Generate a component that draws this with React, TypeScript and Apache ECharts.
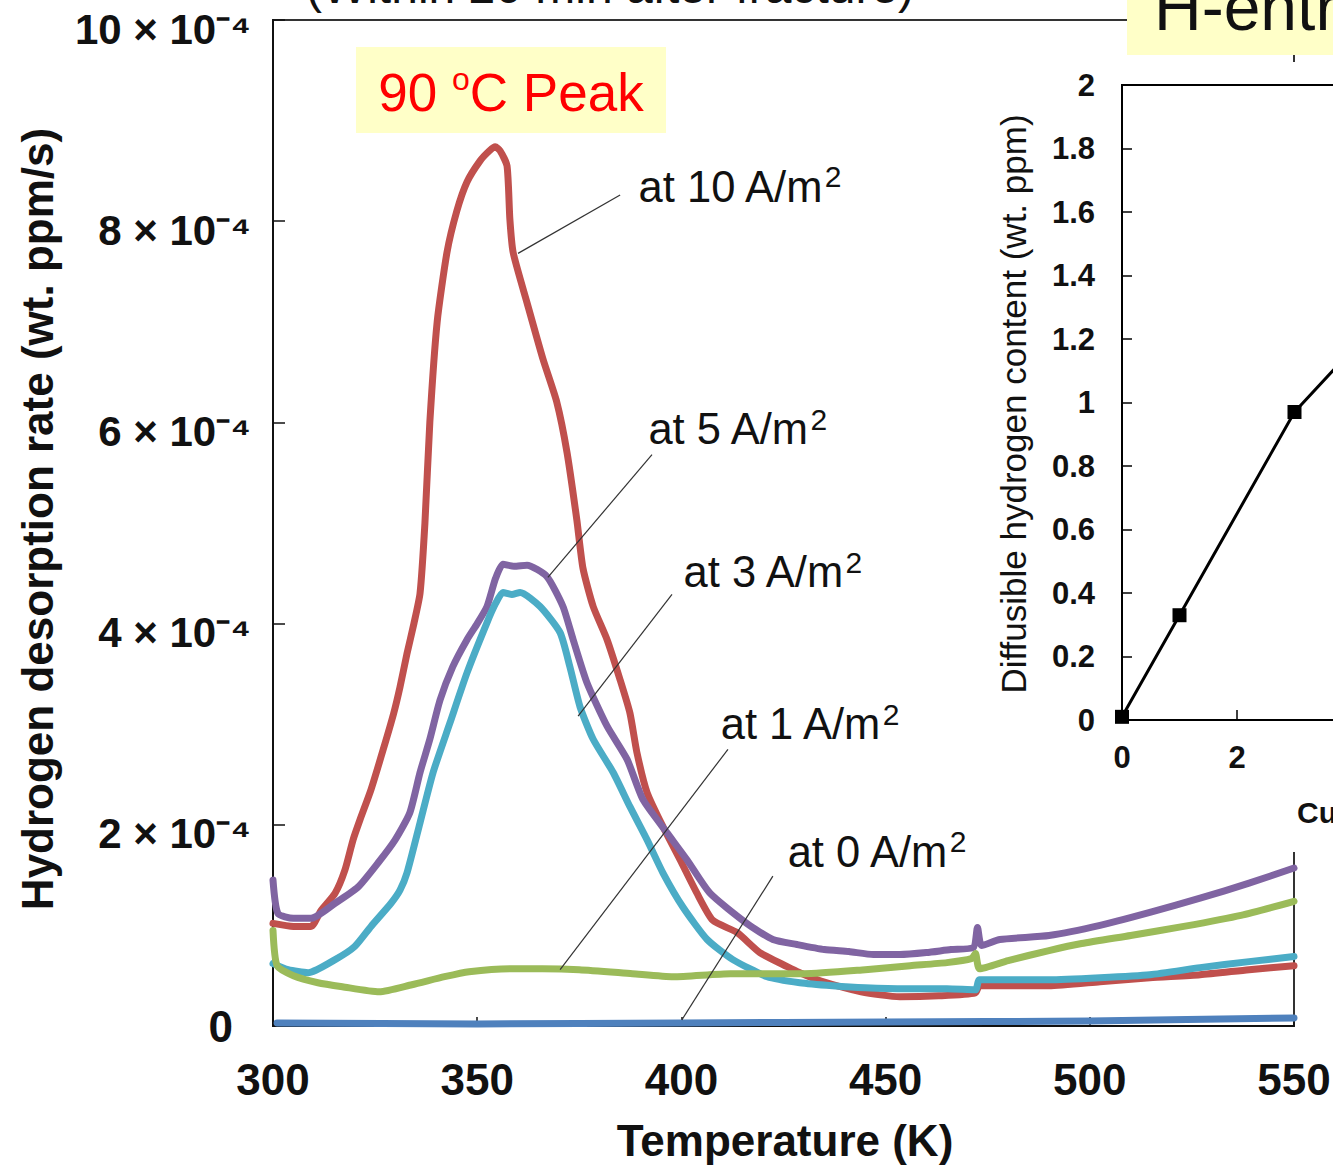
import React, { useEffect, useRef } from "react";
import * as echarts from "echarts";

const FONT = "'Liberation Sans', Arial, Helvetica, sans-serif";

// Main chart: hydrogen desorption rate (in units of 10^-4 wt. ppm/s) vs temperature (K)
const tempRange = [300, 550];
const tempInterval = 50;
const rateRangeE4 = [0, 10];
const rateIntervalE4 = 2;

const rate10: [number, number][] = [
  [300, 1.02], [305, 0.99], [309.3, 0.99], [311.8, 1.15], [315.2, 1.32], [317.6, 1.55], [319.6, 1.85],
  [321.3, 2.05], [324, 2.35], [327, 2.75], [329.5, 3.1], [331.1, 3.37], [332.8, 3.7], [334.5, 4.0],
  [336, 4.3], [337.2, 5.0], [338.4, 6.0], [340.2, 7.0], [342.6, 7.69], [345, 8.1], [347.5, 8.39],
  [350.7, 8.6], [353, 8.7], [354.4, 8.74], [355.6, 8.7], [357.3, 8.55], [358, 8.02], [358.8, 7.69],
  [362.2, 7.19], [366.1, 6.63], [369.5, 6.2], [372, 5.7], [374.4, 5.03], [375.9, 4.55], [378.4, 4.17],
  [381.8, 3.84], [385, 3.44], [387.4, 3.11], [389.1, 2.72], [391.6, 2.32], [395.5, 1.98], [399.7, 1.65],
  [403.8, 1.32], [407.7, 1.05], [413.6, 0.93], [419.2, 0.73], [425.9, 0.59], [429, 0.53], [434, 0.45],
  [444, 0.34], [453.5, 0.29], [463, 0.3], [472, 0.33], [473, 0.4], [490, 0.4], [502.5, 0.44],
  [514.7, 0.48], [527, 0.51], [539, 0.56], [550, 0.6],
];

const rate5: [number, number][] = [
  [300, 1.45], [301.2, 1.12], [305, 1.07], [309.3, 1.07], [315.2, 1.22], [320.8, 1.38], [325.7, 1.62],
  [329.9, 1.85], [333.5, 2.12], [336, 2.52], [338.4, 2.85], [340.9, 3.24], [344, 3.57], [347.5, 3.84],
  [350, 4.0], [352.4, 4.17], [354.5, 4.45], [356.3, 4.59], [359, 4.57], [362.2, 4.58], [367, 4.47],
  [371, 4.17], [373.5, 3.84], [376.9, 3.41], [381.8, 2.98], [386.7, 2.65], [390.6, 2.25], [396.5, 1.92],
  [401.4, 1.65], [407, 1.32], [416, 1.02], [422.4, 0.86], [428.3, 0.81], [435, 0.76], [441, 0.74],
  [447, 0.71], [453.5, 0.71], [460, 0.73], [466, 0.76], [471.5, 0.78], [472.5, 0.98], [473.5, 0.8],
  [478, 0.86], [490, 0.9], [502.5, 1.0], [514.7, 1.13], [527, 1.27], [539, 1.42], [550, 1.57],
];

const rate3: [number, number][] = [
  [300, 0.62], [303.7, 0.56], [308.6, 0.53], [315.2, 0.66], [320, 0.79], [324, 0.99], [328.9, 1.22],
  [331.1, 1.35], [332.8, 1.52], [336, 2.02], [339.2, 2.52], [343.3, 3.01], [347.5, 3.51], [352.4, 4.01],
  [354.5, 4.2], [356.3, 4.31], [358.5, 4.29], [360.5, 4.31], [365.4, 4.17], [370.3, 3.91], [372.7, 3.57],
  [375.2, 3.17], [378.4, 2.85], [383.3, 2.52], [387.4, 2.18], [391.6, 1.85], [395.5, 1.52], [400.4, 1.18],
  [406.3, 0.86], [412.6, 0.66], [421, 0.49], [429, 0.43], [437, 0.4], [445, 0.38], [455, 0.37],
  [465, 0.37], [472, 0.36], [473, 0.46], [490, 0.46], [502.5, 0.48], [514.7, 0.51], [527, 0.58],
  [539, 0.64], [550, 0.69],
];

const rate1: [number, number][] = [
  [300, 0.95], [301, 0.6], [305, 0.5], [311, 0.43], [317, 0.39], [326, 0.34], [334, 0.41], [342, 0.49],
  [348, 0.54], [358, 0.57], [366, 0.57], [375, 0.56], [388, 0.52], [398, 0.49], [412, 0.52], [430, 0.52],
  [445, 0.56], [456, 0.6], [465, 0.63], [471, 0.67], [472, 0.72], [473, 0.57], [480, 0.65], [490, 0.75],
  [498, 0.82], [510, 0.9], [523, 0.99], [537, 1.1], [550, 1.24],
];

const rate0: [number, number][] = [
  [301, 0.03], [350, 0.02], [400, 0.03], [450, 0.04], [500, 0.05], [550, 0.08],
];

const curveNames = ["at 10 A/m2", "at 5 A/m2", "at 3 A/m2", "at 1 A/m2", "at 0 A/m2"];
const curveDensities = [10, 5, 3, 1, 0];
const curveColors = ["#c0504d", "#8064a2", "#4bacc6", "#9bbb59", "#4f81bd"];
const curveData = [rate10, rate5, rate3, rate1, rate0];

// annotation anchors (data coordinates)
const labelAnchors: [number, number][] = [[389.4, 8.34], [391.8, 5.93], [400.4, 4.51], [409.5, 3.0], [425.9, 1.73]];
const leaderStarts: [number, number][] = [[385.0, 8.26], [392.8, 5.68], [397.7, 4.29], [411.4, 2.75], [422.4, 1.49]];
const leaderEnds: [number, number][] = [[360.0, 7.68], [367.3, 4.46], [374.7, 3.08], [370.3, 0.56], [400.1, 0.06]];

// Inset: diffusible hydrogen content vs current density
const insetCurrent = [0, 1, 3, 5];
const insetContent = [0.01, 0.33, 0.97, 1.36];
const insetXRange = [0, 10];
const insetYRange = [0, 2];

export default function App() {
  const ref = useRef<HTMLDivElement>(null);

  useEffect(() => {
    if (!ref.current) return;
    const chart = echarts.init(ref.current, undefined, { renderer: "svg" });

    const supRich = {
      t: { fontSize: 43.5, color: "#111", fontFamily: FONT, lineHeight: 50 },
      s: { fontSize: 30, color: "#111", fontFamily: FONT, lineHeight: 30, verticalAlign: "top" },
    };

    const mainSeries = curveData.map((d, i) => ({
      type: "line",
      name: curveNames[i],
      xAxisIndex: 0,
      yAxisIndex: 0,
      data: d,
      showSymbol: false,
      symbol: "none",
      smooth: 0.2,
      z: 2 + i * 0.01,
      lineStyle: { color: curveColors[i], width: 7, cap: "round", join: "round" },
      itemStyle: { color: curveColors[i] },
      markLine: {
        silent: true,
        animation: false,
        symbol: ["none", "none"],
        lineStyle: { color: "#333", width: 1.2, type: "solid" },
        label: { show: false },
        data: [[{ coord: leaderStarts[i] }, { coord: leaderEnds[i] }]],
      },
      markPoint: {
        silent: true,
        animation: false,
        data: [
          {
            coord: labelAnchors[i],
            symbol: "circle",
            symbolSize: 1,
            itemStyle: { color: "rgba(0,0,0,0)" },
            label: {
              show: true,
              position: "right",
              distance: 0,
              formatter: `{t|at ${curveDensities[i]} A/m}{s|2}`,
              rich: supRich,
            },
          },
        ],
      },
    }));

    const option = {
      animation: false,
      backgroundColor: "#ffffff",
      textStyle: { fontFamily: FONT },
      grid: [
        {
          left: 273, top: 20, width: 1021, height: 1006, outerBoundsMode: "none", containLabel: false,
          show: true, borderColor: "#333", borderWidth: 2, backgroundColor: "transparent",
        },
        {
          left: 1122, top: 85, width: 575, height: 635, z: 3, outerBoundsMode: "none", containLabel: false,
          show: true, borderColor: "#000", borderWidth: 2, backgroundColor: "#fff",
        },
      ],
      xAxis: [
        {
          type: "value", gridIndex: 0, min: tempRange[0], max: tempRange[1], interval: tempInterval,
          axisLine: { show: true, lineStyle: { color: "#111", width: 2 } },
          axisTick: { show: true, inside: true, length: 9, lineStyle: { color: "#111", width: 1.5 } },
          splitLine: { show: false },
          axisLabel: { fontSize: 44, fontWeight: "bold", color: "#111", margin: 31, fontFamily: FONT },
        },
        {
          type: "value", gridIndex: 1, min: insetXRange[0], max: insetXRange[1], interval: 2, z: 3,
          axisLine: { show: true, lineStyle: { color: "#000", width: 2 } },
          axisTick: { show: true, inside: true, length: 10, lineStyle: { color: "#000", width: 1.5 } },
          splitLine: { show: false },
          axisLabel: { fontSize: 31, fontWeight: "bold", color: "#111", margin: 22, fontFamily: FONT },
        },
      ],
      yAxis: [
        {
          type: "value", gridIndex: 0, min: rateRangeE4[0], max: rateRangeE4[1], interval: rateIntervalE4,
          axisLine: { show: true, lineStyle: { color: "#111", width: 2 } },
          axisTick: { show: true, inside: true, length: 12, lineStyle: { color: "#111", width: 1.5 } },
          splitLine: { show: false },
          axisLabel: {
            margin: 22,
            verticalAlign: "top",
            fontSize: 42,
            fontWeight: "bold",
            color: "#111",
            fontFamily: FONT,
            lineHeight: 18,
            formatter: (v: number) => (v === 0 ? "{z|0}" : `${v} × 10⁻⁴`),
            rich: {
              z: { fontSize: 44, fontWeight: "bold", color: "#111", fontFamily: FONT, lineHeight: 1, padding: [0, 18, 0, 0] },
            },
          },
        },
        {
          type: "value", gridIndex: 1, min: insetYRange[0], max: insetYRange[1], interval: 0.2, z: 3,
          axisLine: { show: true, lineStyle: { color: "#000", width: 2 } },
          axisTick: { show: true, inside: true, length: 10, lineStyle: { color: "#000", width: 1.5 } },
          splitLine: { show: false },
          axisLabel: { fontSize: 31, fontWeight: "bold", color: "#111", margin: 27, fontFamily: FONT },
        },
      ],
      series: [
        ...mainSeries,
        {
          type: "line",
          name: "Diffusible hydrogen content",
          xAxisIndex: 1,
          yAxisIndex: 1,
          data: insetCurrent.map((c, i) => [c, insetContent[i]]),
          symbol: "rect",
          symbolSize: 14,
          z: 5,
          clip: false,
          lineStyle: { color: "#000", width: 3 },
          itemStyle: { color: "#000" },
        },
      ],
      graphic: [
        // hides the main frame behind the inset
        { type: "rect", z: 1, shape: { x: 985, y: 62, width: 900, height: 790 }, style: { fill: "#fff" } },
        // inset labels
        {
          type: "text", z: 6, x: 1013, y: 404, rotation: Math.PI / 2,
          style: {
            text: "Diffusible hydrogen content (wt. ppm)", fontSize: 35, fontFamily: FONT,
            fill: "#111", align: "center", verticalAlign: "middle",
          },
        },
        {
          type: "text", z: 6, x: 1297, y: 812,
          style: {
            text: "Current density (A/m{s|2})", fontSize: 30, fontWeight: "bold", fontFamily: FONT,
            fill: "#111", align: "left", verticalAlign: "middle",
            rich: { s: { fontSize: 20, fontWeight: "bold", verticalAlign: "top" } },
          },
        },
        // main axis titles
        {
          type: "text", z: 6, x: 37, y: 519, rotation: Math.PI / 2,
          style: {
            text: "Hydrogen desorption rate (wt. ppm/s)", fontSize: 44, fontWeight: "bold", fontFamily: FONT,
            fill: "#111", align: "center", verticalAlign: "middle",
          },
        },
        {
          type: "text", z: 6, x: 785, y: 1140,
          style: {
            text: "Temperature (K)", fontSize: 44, fontWeight: "bold", fontFamily: FONT,
            fill: "#111", align: "center", verticalAlign: "middle",
          },
        },
        // cropped title
        {
          type: "text", z: 6, x: 610, y: -14,
          style: {
            text: "(Within 20 min after fracture)", fontSize: 48, fontFamily: FONT,
            fill: "#111", align: "center", verticalAlign: "middle",
          },
        },
        // 90 °C peak box
        { type: "rect", z: 10, shape: { x: 356, y: 47, width: 310, height: 86 }, style: { fill: "#ffffc8" } },
        {
          type: "text", z: 11, x: 511, y: 92,
          style: {
            text: "{n|90 }{s|o}{n|C Peak}", fill: "#ff0000", align: "center", verticalAlign: "middle",
            rich: {
              n: { fontSize: 53, fontFamily: FONT, fill: "#ff0000", lineHeight: 58 },
              s: { fontSize: 32, fontFamily: FONT, fill: "#ff0000", lineHeight: 32, verticalAlign: "top" },
            },
          },
        },
        // H-entry box (cropped)
        { type: "rect", z: 10, shape: { x: 1127, y: -10, width: 700, height: 65 }, style: { fill: "#ffffc8" } },
        {
          type: "text", z: 11, x: 1154, y: 7,
          style: {
            text: "H-entry", fontSize: 66, fontFamily: FONT, fill: "#111",
            align: "left", verticalAlign: "middle",
          },
        },
      ],
    };

    chart.setOption(option as any);
    return () => chart.dispose();
  }, []);

  return (
    <div style={{ position: "fixed", left: 0, top: 0, width: 1333, height: 1165, overflow: "hidden", background: "#fff" }}>
      <div ref={ref} style={{ width: 1800, height: 1165 }} />
    </div>
  );
}
